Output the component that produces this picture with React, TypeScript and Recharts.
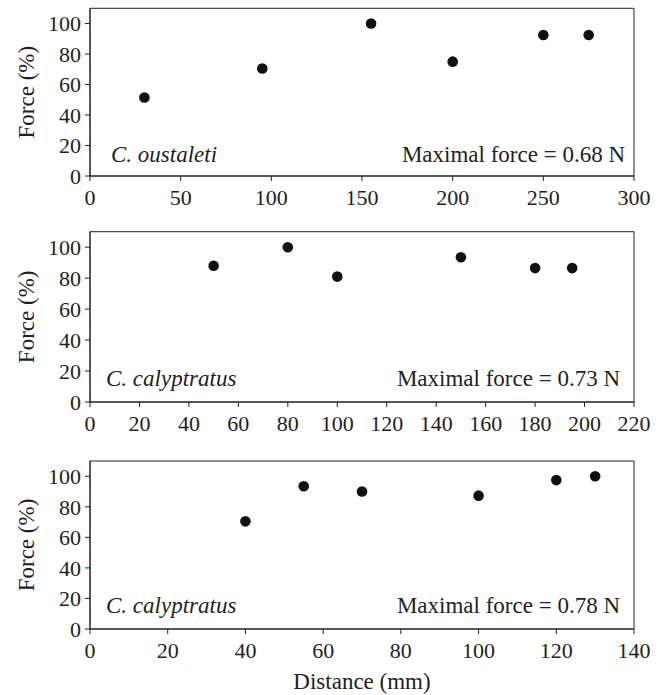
import { ScatterChart, Scatter, XAxis, YAxis, ReferenceArea } from "recharts"

// species / trial labels
const speciesNames = ["C. oustaleti", "C. calyptratus", "C. calyptratus"]
const maxForces = ["0.68", "0.73", "0.78"]

// distance (mm) and force (% of max) for each trial
const oustaletiDistance = [30, 95, 155, 200, 250, 275]
const oustaletiForce = [51.5, 70.5, 100, 75, 92.5, 92.5]
const calyptratusADistance = [50, 80, 100, 150, 180, 195]
const calyptratusAForce = [88, 100, 81, 93.5, 86.5, 86.5]
const calyptratusBDistance = [40, 55, 70, 100, 120, 130]
const calyptratusBForce = [70.5, 93.5, 90, 87.3, 97.5, 100]

// axis ticks
const forceTicks = [0, 20, 40, 60, 80, 100]
const distanceTicksA = [0, 50, 100, 150, 200, 250, 300]
const distanceTicksB = [0, 20, 40, 60, 80, 100, 120, 140, 160, 180, 200, 220]
const distanceTicksC = [0, 20, 40, 60, 80, 100, 120, 140]

const FONT = '"Liberation Serif", "DejaVu Serif", serif'
const INK = "#231f20"

interface PanelProps {
  top: number
  height: number
  marginTop: number
  marginBottom: number
  axisHeight: number
  distance: number[]
  force: number[]
  ticks: number[]
  species: string
  maxForce: string
  leftPad: number
  rightPad: number
  bottomPad: number
  showXLabel?: boolean
}

const Dot = (props: any) => {
  const { cx, cy } = props
  if (cx == null || cy == null) return null
  return <circle cx={cx} cy={cy} r={5.3} fill="#111" />
}

const tickStyle = { fill: INK, fontSize: 22, style: { fontFamily: FONT } }

function Panel(p: PanelProps) {
  const data = p.distance.map((d, i) => ({ distance: d, force: p.force[i] }))
  const xMax = p.ticks[p.ticks.length - 1]

  return (
    <div style={{ position: "absolute", left: 0, top: p.top, fontFamily: FONT }}>
      <ScatterChart
        width={665}
        height={p.height}
        margin={{ top: p.marginTop, right: 31, bottom: p.marginBottom, left: 0 }}
        style={{ fontFamily: FONT }}
      >
        <XAxis
          type="number"
          dataKey="distance"
          domain={[0, xMax]}
          ticks={p.ticks}
          interval={0}
          height={p.axisHeight}
          tickSize={5}
          tickMargin={8}
          axisLine={{ stroke: INK }}
          tickLine={{ stroke: INK }}
          tick={tickStyle}
          label={
            p.showXLabel
              ? {
                  value: "Distance (mm)",
                  position: "insideBottom",
                  offset: 0,
                  fill: INK,
                  fontSize: 23,
                  style: { fontFamily: FONT },
                }
              : undefined
          }
        />
        <YAxis
          type="number"
          dataKey="force"
          domain={[0, 110]}
          ticks={forceTicks}
          interval={0}
          width={90}
          tickSize={5}
          tickMargin={4}
          axisLine={{ stroke: INK }}
          tickLine={{ stroke: INK }}
          tick={tickStyle}
          label={{
            value: "Force (%)",
            angle: -90,
            position: "insideLeft",
            offset: 26,
            fill: INK,
            fontSize: 23,
            style: { textAnchor: "middle", fontFamily: FONT },
          }}
        />
        <ReferenceArea
          x1={0}
          x2={xMax}
          y1={0}
          y2={110}
          fill="none"
          stroke={INK}
          strokeWidth={1}
          ifOverflow="visible"
          label={{
            content: (lp: any) => {
              const vb = lp.viewBox || {}
              const base = vb.y + vb.height - p.bottomPad
              return (
                <g style={{ fontFamily: FONT }}>
                  <text
                    x={vb.x + p.leftPad}
                    y={base}
                    fontSize={23}
                    fontStyle="italic"
                    fill={INK}
                    style={{ fontFamily: FONT }}
                  >
                    {p.species}
                  </text>
                  <text
                    x={vb.x + vb.width - p.rightPad}
                    y={base}
                    fontSize={23}
                    textAnchor="end"
                    fill={INK}
                    style={{ fontFamily: FONT }}
                  >
                    {`Maximal force = ${p.maxForce} N`}
                  </text>
                </g>
              )
            },
          }}
        />
        <Scatter data={data} shape={<Dot />} isAnimationActive={false} />
      </ScatterChart>
    </div>
  )
}

export default function App() {
  return (
    <div
      style={{
        position: "absolute",
        left: 0,
        top: 0,
        width: 665,
        height: 695,
        background: "#fff",
        fontFamily: FONT,
      }}
    >
      <Panel
        top={0}
        height={215}
        marginTop={8.3}
        marginBottom={4}
        axisHeight={35}
        distance={oustaletiDistance}
        force={oustaletiForce}
        ticks={distanceTicksA}
        species={speciesNames[0]}
        maxForce={maxForces[0]}
        leftPad={21}
        rightPad={9}
        bottomPad={14.3}
      />
      <Panel
        top={215}
        height={225}
        marginTop={16.7}
        marginBottom={3}
        axisHeight={35}
        distance={calyptratusADistance}
        force={calyptratusAForce}
        ticks={distanceTicksB}
        species={speciesNames[1]}
        maxForce={maxForces[1]}
        leftPad={16}
        rightPad={14}
        bottomPad={16.3}
      />
      <Panel
        top={440}
        height={255}
        marginTop={21}
        marginBottom={6}
        axisHeight={60}
        distance={calyptratusBDistance}
        force={calyptratusBForce}
        ticks={distanceTicksC}
        species={speciesNames[2]}
        maxForce={maxForces[2]}
        leftPad={16}
        rightPad={14}
        bottomPad={15.7}
        showXLabel
      />
    </div>
  )
}
